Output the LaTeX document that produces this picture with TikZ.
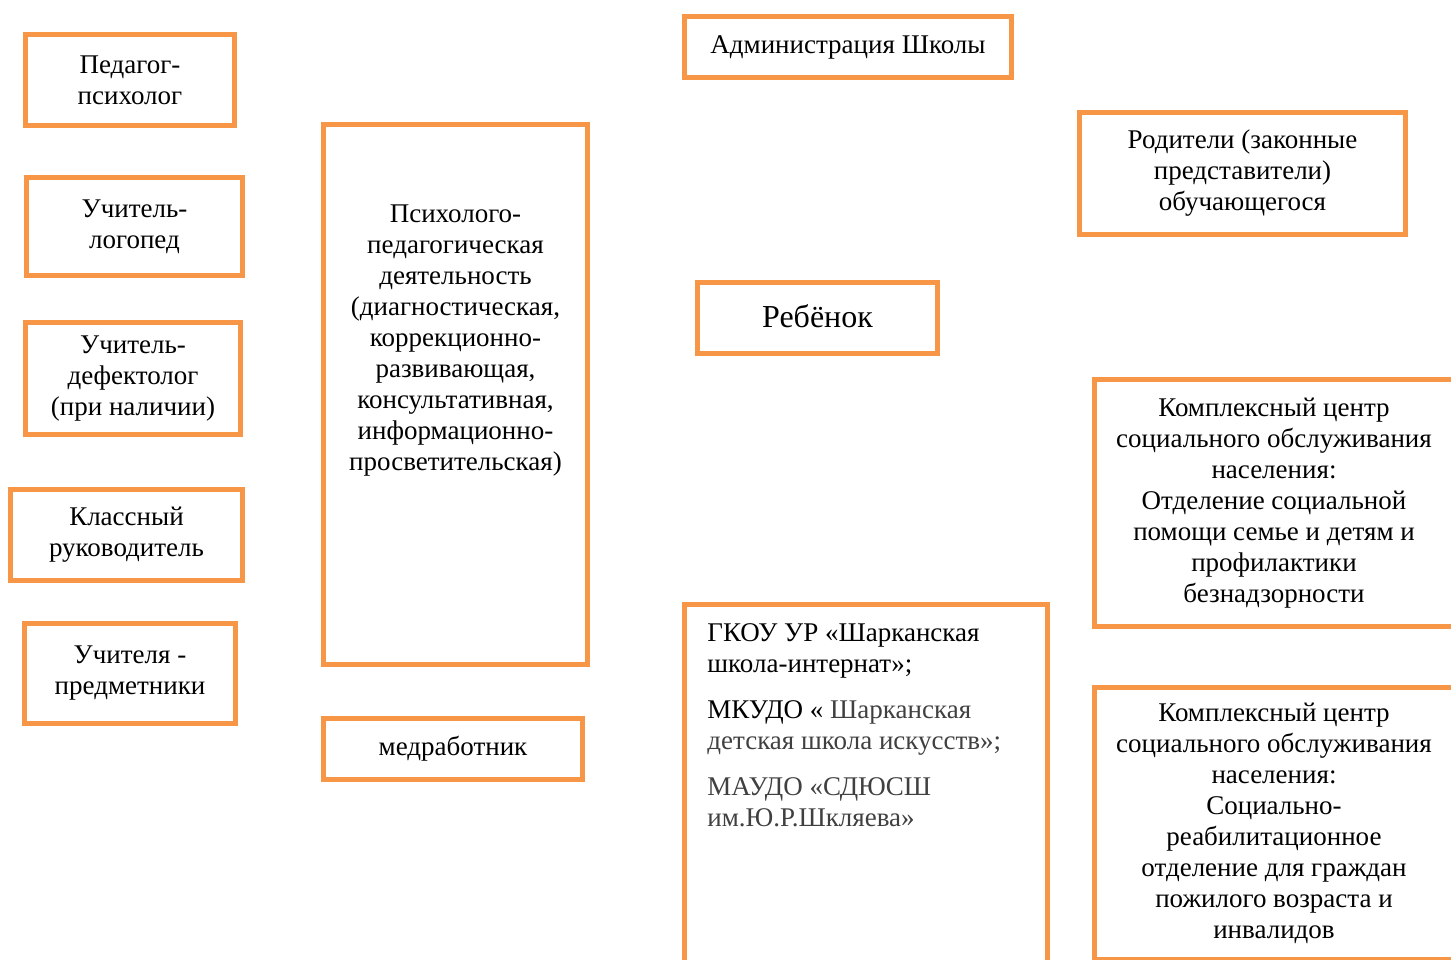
\documentclass[tikz,border=0pt]{standalone}
\usepackage{fontspec}
\setmainfont{Liberation Serif}
\definecolor{boxorange}{RGB}{247,150,70}
\definecolor{textgray}{RGB}{64,64,64}
\tikzset{
  box/.style={draw=boxorange, line width=2.5pt, align=center, inner sep=0pt,
    font=\fontsize{13.5}{15.5}\selectfont},
  boxtext/.style={align=center, inner sep=0pt, font=\fontsize{13.5}{15.5}\selectfont}
}

\begin{document}
\begin{tikzpicture}[x=0.5pt,y=-0.5pt]
    \useasboundingbox (0,0) rectangle (1451,959);
    \clip (0,0) rectangle (1451,959);
    % left column:
    \node [box, minimum width=104.5pt, minimum height=45.5pt] (pedpsy) at (130,80) {Педагог-\\психолог};
    \node [box, minimum width=108pt, minimum height=49pt] (logoped) at (134.5,226.5) {Учитель-\\логопед};
    \node [box, minimum width=107.5pt, minimum height=56pt] (defekt) at (133,378.5) {Учитель-\\дефектолог\\(при наличии)};
    \node [box, minimum width=116pt, minimum height=45.5pt] (klruk) at (126.5,535) {Классный\\руководитель};
    \node [box, minimum width=105.5pt, minimum height=50pt] (predm) at (130,673.5) {Учителя -\\предметники};
    % psychological activity:
    \node [box, minimum width=132pt, minimum height=270pt] (psyact) at (455.5,394.5) {};
    \node [boxtext, anchor=north] (psytext) at (455.5,204) {Психолого-\\педагогическая\\деятельность\\(диагностическая,\\коррекционно-\\развивающая,\\консультативная,\\информационно-\\просветительская)};
    \node [box, minimum width=129.5pt, minimum height=30.5pt] (medrab) at (453,749) {медработник};
    % centre:
    \node [box, minimum width=163.5pt, minimum height=30.5pt] (admin) at (848,47) {Администрация Школы};
    \node [box, minimum width=120pt, minimum height=35.5pt, font=\fontsize{16}{18}\selectfont] (child) at (817.5,318) {\raisebox{2pt}{Ребёнок}};
    \node [box, minimum width=181.5pt, minimum height=184pt] (partners) at (866,788.5) {};
    \node [boxtext, align=left, anchor=north west] (partnertext) at (707,623) {ГКОУ УР «Шарканская\\школа-интернат»;\\[7.5pt]
      МКУДО « \textcolor{textgray}{Шарканская}\\\textcolor{textgray}{детская школа искусств»;}\\[7.5pt]
      \textcolor{textgray}{МАУДО «СДЮСШ}\\\textcolor{textgray}{им.Ю.Р.Шкляева»}};
    % right column:
    \node [box, minimum width=163pt, minimum height=61pt] (parents) at (1242.5,173.5) {Родители (законные\\представители)\\обучающегося};
    \node [box, minimum width=179.5pt, minimum height=123.5pt] (kcsoA) at (1274,503) {Комплексный центр\\социального обслуживания\\населения:\\Отделение социальной\\помощи семье и детям и\\профилактики\\безнадзорности};
    \node [box, minimum width=179.5pt, minimum height=136pt] (kcsoB) at (1274,823.5) {Комплексный центр\\социального обслуживания\\населения:\\Социально-\\реабилитационное\\отделение для граждан\\пожилого возраста и\\инвалидов};
\end{tikzpicture}
\end{document}
